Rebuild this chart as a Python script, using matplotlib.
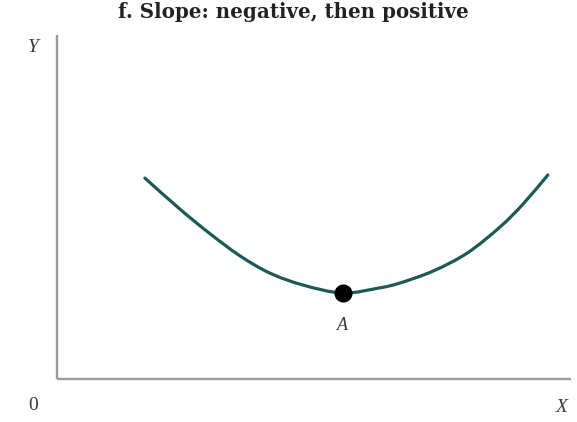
import matplotlib
matplotlib.use("Agg")
import matplotlib.pyplot as plt
from matplotlib.path import Path
from matplotlib.patches import PathPatch

# Curve read as (x, y) in chart units (axes span 0..10 on both)
curve_x = [1.71, 2.39, 2.98, 3.56, 4.14, 4.79, 5.56, 6.28, 6.67, 7.32, 7.98, 8.62, 9.07, 9.55]
curve_y = [5.84, 4.94, 4.22, 3.58, 3.08, 2.73, 2.50, 2.65, 2.79, 3.14, 3.66, 4.42, 5.09, 5.93]
point_a = (5.56, 2.50)

title = "f. Slope: negative, then positive"


def smooth_path(xs, ys):
    """Catmull-Rom curve through every point, drawn as cubic Bezier segments."""
    pts = list(zip(xs, ys))
    n = len(pts)
    verts = [pts[0]]
    codes = [Path.MOVETO]
    for i in range(n - 1):
        p0 = pts[i - 1] if i > 0 else pts[i]
        p1 = pts[i]
        p2 = pts[i + 1]
        p3 = pts[i + 2] if i + 2 < n else pts[i + 1]
        c1 = (p1[0] + (p2[0] - p0[0]) / 6, p1[1] + (p2[1] - p0[1]) / 6)
        c2 = (p2[0] - (p3[0] - p1[0]) / 6, p2[1] - (p3[1] - p1[1]) / 6)
        verts += [c1, c2, p2]
        codes += [Path.CURVE4] * 3
    return Path(verts, codes)


W, H = 577, 422
fig = plt.figure(figsize=(W / 100, H / 100), dpi=100)
left, right, bottom, top = 57, 571, 379, 35
ax = fig.add_axes([left / W, 1 - bottom / H, (right - left) / W, (bottom - top) / H])
ax.set_xlim(0, 10)
ax.set_ylim(0, 10)
ax.axis("off")

axis_color = "#9a9a9a"
ax.plot([0, 0], [0, 10], color=axis_color, lw=1.7, solid_capstyle="butt", clip_on=False)
ax.plot([0, 10], [0, 0], color=axis_color, lw=1.7, solid_capstyle="butt", clip_on=False)

ax.add_patch(PathPatch(smooth_path(curve_x, curve_y), facecolor="none",
                       edgecolor="#1d5955", lw=2.3, capstyle="round",
                       joinstyle="round", clip_on=False))
ax.plot([point_a[0]], [point_a[1]], "o", color="black", ms=12, zorder=5)

serif = ["Liberation Serif", "DejaVu Serif"]
ax.text(point_a[0], point_a[1] - 0.95, "A", ha="center", va="center",
        fontsize=13, style="italic", family=serif, color="#3a3a3a")

fig.text(293 / W, 1 - 12 / H, title, ha="center", va="center",
         fontsize=14.3, fontweight="bold", family=["DejaVu Serif"], color="#222222")
fig.text(33 / W, 1 - 47 / H, "Y", ha="center", va="center",
         fontsize=14, style="italic", family=serif, color="#3a3a3a")
fig.text(33 / W, 1 - 406 / H, "0", ha="center", va="center",
         fontsize=14, family=serif, color="#3a3a3a")
fig.text(562 / W, 1 - 407 / H, "X", ha="center", va="center",
         fontsize=14, style="italic", family=serif, color="#3a3a3a")

fig.savefig("out.png", dpi=100, facecolor="white")
